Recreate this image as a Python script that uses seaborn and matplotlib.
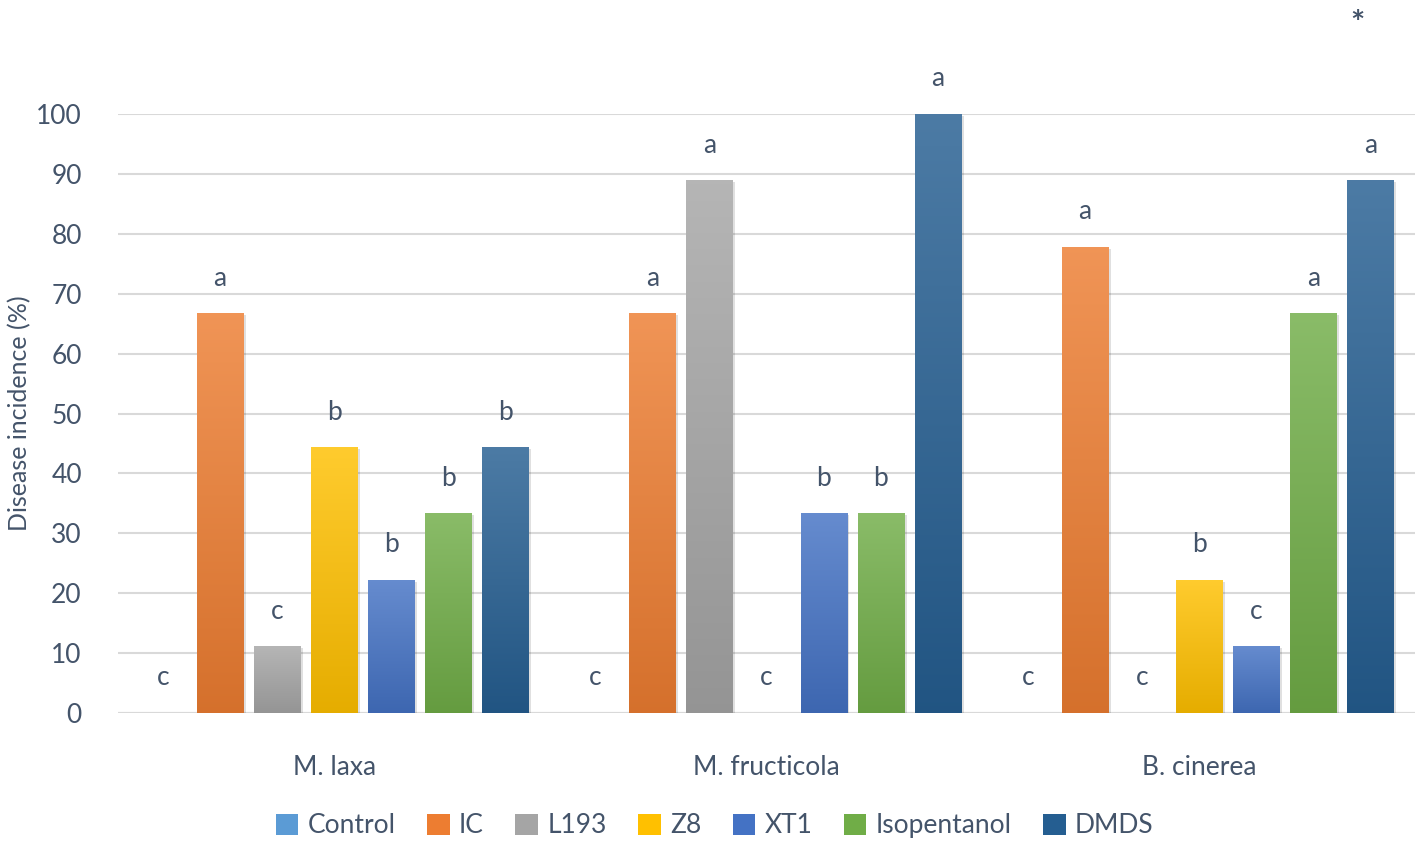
import numpy as np
import pandas as pd
import matplotlib
matplotlib.use("Agg")
import matplotlib.pyplot as plt
import matplotlib.colors as mcolors
from matplotlib.patches import Patch
import seaborn as sns

# data
pathogens = ["M. laxa", "M. fructicola", "B. cinerea"]
treatments = ["Control", "IC", "L193", "Z8", "XT1", "Isopentanol", "DMDS"]
laxa = [0, 66.7, 11.1, 44.4, 22.2, 33.3, 44.4]
fructicola = [0, 66.7, 88.9, 0, 33.3, 33.3, 100]
cinerea = [0, 77.8, 0, 22.2, 11.1, 66.7, 88.9]
letters_laxa = ["c", "a", "c", "b", "b", "b", "b"]
letters_fructicola = ["c", "a", "a", "c", "b", "b", "a"]
letters_cinerea = ["c", "a", "c", "b", "c", "a", "a"]

colors = ["#5B9BD5", "#ED7D31", "#A5A5A5", "#FFC000", "#4472C4", "#70AD47", "#255E91"]
text_col = "#44546A"

rows = []
for p, vals, lets in zip(pathogens, [laxa, fructicola, cinerea],
                         [letters_laxa, letters_fructicola, letters_cinerea]):
    for t, v, l in zip(treatments, vals, lets):
        rows.append({"Pathogen": p, "Treatment": t, "Incidence": v, "Letter": l})
df = pd.DataFrame(rows)

sns.set_style("white")
plt.rcParams["font.family"] = ["Lato", "DejaVu Sans"]

fig = plt.figure(figsize=(14.21, 8.46), dpi=100)
ax = fig.add_axes([0.083, 0.1572, 0.913, 0.708])

sns.barplot(data=df, x="Pathogen", y="Incidence", hue="Treatment",
            order=pathogens, hue_order=treatments, palette=colors,
            width=0.924, gap=0.19, legend=False, ax=ax, zorder=3)


def shade(c, f):
    r = np.array(mcolors.to_rgb(c))
    if f > 0:
        return r + (1 - r) * f
    return r * (1 + f)


# gradient fill on every bar, light at the top and dark at the bottom
for t, col, cont in zip(treatments, colors, ax.containers):
    top = shade(col, 0.18)
    bot = shade(col, -0.1)
    grad = np.linspace(top, bot, 256).reshape(256, 1, 3)
    sub = df[df["Treatment"] == t]
    for bar, letter in zip(cont, sub["Letter"]):
        x, w, h = bar.get_x(), bar.get_width(), bar.get_height()
        if h > 0:
            # soft shadow
            ax.add_patch(plt.Rectangle((x + 0.006, 0), w, h - 0.3, color="#000000",
                                       alpha=0.12, lw=0, zorder=2))
            ax.imshow(grad, extent=[x, x + w, 0, h], aspect="auto", zorder=3,
                      interpolation="bicubic")
        bar.set_visible(False)
        ax.text(x + w / 2, h + 4.6, letter, ha="center", va="baseline",
                fontsize=19, color=text_col, zorder=4)

ax.set_ylim(0, 100)
ax.set_xlim(-0.5, 2.5)
ax.set_yticks(range(0, 101, 10))
ax.yaxis.grid(True, color="#D9D9D9", lw=1.5, zorder=0)
ax.set_axisbelow(True)
for s in ax.spines.values():
    s.set_visible(False)
ax.tick_params(axis="y", length=0, pad=26, labelsize=19, labelcolor=text_col)
ax.tick_params(axis="x", length=0, pad=30, labelsize=19, labelcolor=text_col)
ax.set_xlabel("")
ax.set_ylabel("Disease incidence (%)", fontsize=18, color=text_col)
ax.yaxis.set_label_coords(-0.067, 0.5)
ax.axhline(0, color="#D9D9D9", lw=1.5, zorder=1)

# significance mark above the last group
ax.text(2.366, 115, "*", ha="center", va="center", fontsize=24,
        fontweight="bold", color=text_col, clip_on=False)

handles = [Patch(facecolor=c, edgecolor="none") for c in colors]
fig.legend(handles, treatments, loc="center", bbox_to_anchor=(0.503, 0.024),
           ncol=7, frameon=False, fontsize=19, labelcolor=text_col,
           handlelength=0.85, handleheight=0.85, handletextpad=0.35, columnspacing=1.2)

fig.savefig("out.png", dpi=100)
